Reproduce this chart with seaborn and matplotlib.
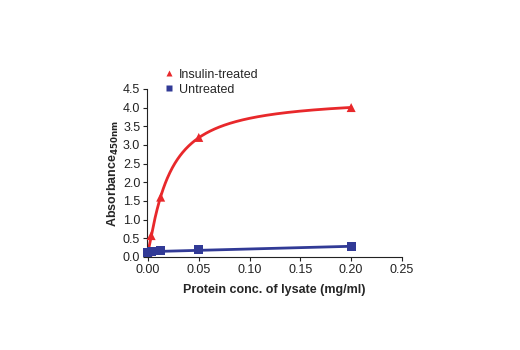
import numpy as np
import pandas as pd
import matplotlib
matplotlib.use("Agg")
import matplotlib.pyplot as plt
import seaborn as sns

conc = [0.0, 0.003125, 0.0125, 0.05, 0.2]
insulin = [0.13, 0.57, 1.60, 3.20, 4.00]
untreated = [0.12, 0.14, 0.16, 0.19, 0.28]
xticks = [0.00, 0.05, 0.10, 0.15, 0.20, 0.25]
yticks = [0.0, 0.5, 1.0, 1.5, 2.0, 2.5, 3.0, 3.5, 4.0, 4.5]

RED = "#e8282b"
BLUE = "#313a96"

sns.set_style("ticks")
plt.rcParams['font.family'] = ['Liberation Sans Narrow', 'Liberation Sans', 'DejaVu Sans']

fig = plt.figure(figsize=(5.2, 3.5), dpi=100)
ax = fig.add_axes([0.283, 0.266, 0.490, 0.480])

df = pd.DataFrame({"conc": conc + conc,
                   "abs": insulin + untreated,
                   "group": ["Insulin-treated"] * len(conc) + ["Untreated"] * len(conc)})

# Hill-type saturation fit for insulin curve: y = y0 + B*x^n/(K^n+x^n)
x = np.array(conc); y = np.array(insulin)
best = None
for K in np.linspace(0.002, 0.1, 400):
    for n in np.linspace(1.0, 2.0, 41):
        h = x ** n / (K ** n + x ** n)
        A = np.column_stack([np.ones_like(x), h])
        coef, *_ = np.linalg.lstsq(A, y, rcond=None)
        r = np.sum((A @ coef - y) ** 2)
        if best is None or r < best[0]:
            best = (r, K, n, coef)
_, K, n, coef = best
xf = np.linspace(0, 0.2, 400)
fit = pd.DataFrame({"conc": xf, "abs": coef[0] + coef[1] * xf ** n / (K ** n + xf ** n)})
sns.lineplot(data=fit, x="conc", y="abs", color=RED, lw=2, ax=ax)

# linear fit for untreated
p = np.polyfit(conc, untreated, 1)
fitu = pd.DataFrame({"conc": xf, "abs": np.polyval(p, xf)})
sns.lineplot(data=fitu, x="conc", y="abs", color=BLUE, lw=2, ax=ax)

sns.scatterplot(data=df, x="conc", y="abs", hue="group", style="group",
                palette={"Insulin-treated": RED, "Untreated": BLUE},
                markers={"Insulin-treated": "^", "Untreated": "s"},
                s=42, edgecolor="none", ax=ax, zorder=5, clip_on=False)

ax.set_xlim(-0.0008, 0.25)
ax.set_ylim(0, 4.5)
ax.set_xticks(xticks)
ax.set_xticklabels([f"{v:.2f}" for v in xticks])
ax.set_yticks(yticks)
ax.set_yticklabels([f"{v:.1f}" for v in yticks])
ax.tick_params(labelsize=9, length=3, width=0.8, colors="#222222", pad=2)
for s in ["left", "bottom"]:
    ax.spines[s].set_linewidth(0.8)
    ax.spines[s].set_color("#222222")
sns.despine(ax=ax)

ax.set_xlabel("Protein conc. of lysate (mg/ml)", fontsize=9, fontweight="bold", labelpad=6)
ax.set_ylabel("Absorbance$_{\\mathbf{450nm}}$", fontsize=9, fontweight="bold", labelpad=1)

leg = ax.legend(loc="lower left", bbox_to_anchor=(0.045, 0.93), frameon=False, fontsize=9,
                handlelength=0.8, handletextpad=0.4, labelspacing=0.25, borderaxespad=0,
                markerscale=0.75)
leg.set_title(None)

fig.savefig("out.png", dpi=100)
